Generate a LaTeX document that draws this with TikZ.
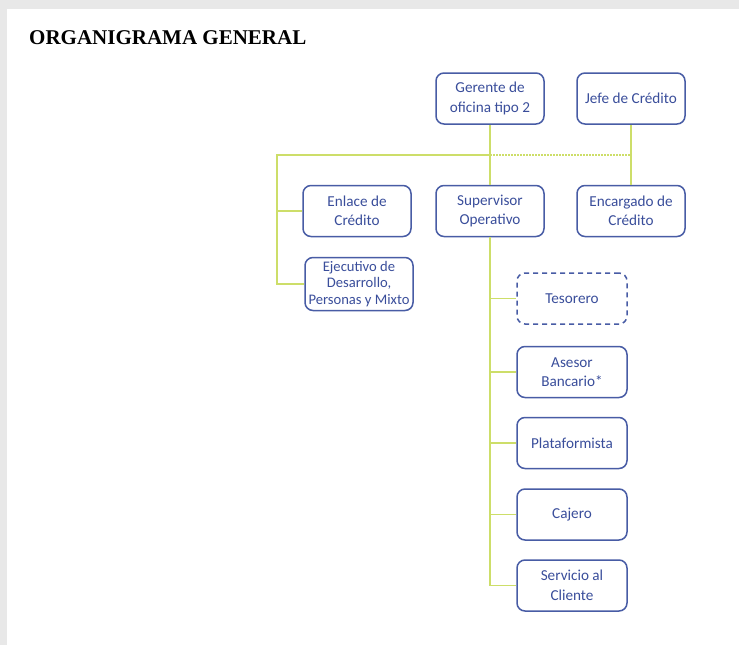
\documentclass[tikz,border=0pt]{standalone}
\usepackage{fontspec}
\setmainfont{Carlito}
\newfontfamily\titulofont{Liberation Serif}
\usepackage{xcolor}
\usetikzlibrary{calc,positioning}

\definecolor{azulcaja}{RGB}{72,92,165}
\definecolor{azultexto}{RGB}{58,78,155}
\definecolor{lineaverde}{RGB}{205,222,105}
\definecolor{sombra}{RGB}{232,232,232}

\tikzset{
  cargo/.style={draw=azulcaja, line width=1.5pt, rounded corners=8pt,
    minimum width=108pt, minimum height=51pt, align=center, inner sep=2pt,
    text=azultexto, font=\fontsize{15.2}{19.5}\selectfont},
  conector/.style={draw=lineaverde, line width=1.3pt}
}

\begin{document}
\begin{tikzpicture}[x=1pt,y={(0pt,-1pt)}]
		% fondo y sombra de la hoja
		\fill[sombra] (0,0) rectangle (739,645);
		\fill[white] (7,9) rectangle (739,645);
		\useasboundingbox (0,0) rectangle (739,645);
		
		\node[anchor=base west, inner sep=0pt, font=\titulofont\bfseries\fontsize{21}{25}\selectfont] (titulo) at (29,44) {ORGANIGRAMA GENERAL};
		
		% nivel superior
		\node[cargo] (gerente) at (490,98.5) {Gerente de\\oficina tipo 2};
		\node[cargo] (jefe) at (631,98.5) {Jefe de Crédito};
		
		% segundo nivel
		\node[cargo] (enlace) at (357,211) {Enlace de\\Crédito};
		\node[cargo] (supervisor) at (490,211) {Supervisor\\Operativo};
		\node[cargo] (encargado) at (631,211) {Encargado de\\Crédito};
		\node[cargo, minimum height=53pt, font=\fontsize{14.6}{16.5}\selectfont] (ejecutivo) at (359,284) {Ejecutivo de\\Desarrollo,\\Personas y Mixto};
		
		% dependientes del supervisor
		\node[cargo, dashed, dash pattern=on 5pt off 4pt, minimum width=110pt] (tesorero) at (572,298.5) {Tesorero};
		\node[cargo, minimum width=110pt] (asesor) at (572,372) {Asesor\\Bancario*};
		\node[cargo, minimum width=110pt] (plataforma) at (572,443) {Plataformista};
		\node[cargo, minimum width=110pt] (cajero) at (572,514.5) {Cajero};
		\node[cargo, minimum width=110pt] (servicio) at (572,585.5) {Servicio al\\Cliente};
		
		% lineas
		\coordinate (barra) at (277,155);
		\draw[conector] (gerente.south) -- (supervisor.north);
		\draw[conector] (gerente.south |- barra) -- (barra) |- (ejecutivo.west);
		\draw[conector] (barra |- enlace.west) -- (enlace.west);
		\draw[conector, dash pattern=on 1.5pt off 1.5pt] (gerente.south |- barra) -- (jefe.south |- barra);
		\draw[conector] (jefe.south) -- (encargado.north);
		\draw[conector] (supervisor.south) |- (servicio.west);
		\foreach \n in {tesorero,asesor,plataforma,cajero}
			\draw[conector] (supervisor.south |- \n.west) -- (\n.west);
	\end{tikzpicture}
\end{document}
